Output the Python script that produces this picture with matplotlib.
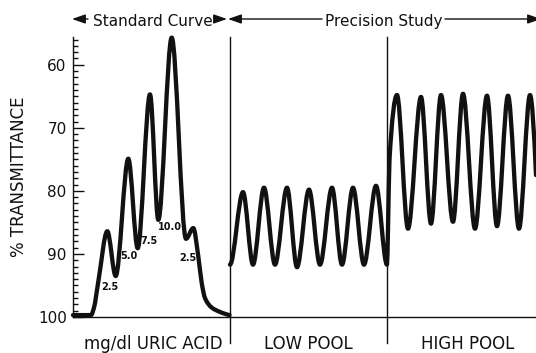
"""
	Uric acid assay, recorder trace.
	Standard curve (2.5 - 10.0 mg/dl) followed by a precision study on a low and a high pool.
	% transmittance runs downward, 100 sits on the baseline.
"""

import numpy as np
import matplotlib
matplotlib.use('Agg')
import matplotlib.pyplot as plt
from matplotlib.path import Path
from matplotlib.patches import PathPatch, FancyArrowPatch
from matplotlib.ticker import MultipleLocator

# chart position along the strip (0 = left edge of the grid) and % transmittance
# standard curve: baseline, peaks / valleys, then the tail back to baseline
std_pos = [0, 18, 21, 25.3, 34.3, 42.7, 55.3, 64.7, 77, 85.3, 98.7, 113, 120.3,
	125.3, 128.7, 132, 138.7, 147, 156.5]
std_trans = [99.7, 99.7, 98.5, 94.4, 86.4, 93.5, 74.9, 89.1, 64.7, 84.6, 55.7, 87.6, 85.9,
	90.4, 94.6, 97.0, 98.5, 99.2, 99.7]

low_pos = [157, 170, 180, 191, 202, 214, 224, 236, 247, 259, 269, 280, 291, 303, 314]
low_trans = [91.7, 80.2, 91.7, 79.5, 91.7, 79.5, 92.1, 79.8, 91.7, 79.5, 91.7, 79.5, 91.7, 79.2, 91.7]

high_pos = [315, 316.5, 324, 335, 348, 358, 368, 380, 390, 402, 414, 424, 435, 446, 457, 463]
high_trans = [86.0, 75.0, 64.8, 86.0, 65.1, 85.2, 64.8, 84.9, 64.6, 86.0, 64.9, 85.6, 64.9, 86.0, 64.8, 77.5]

# concentration marks written on the standard peaks
std_labels = ['2.5', '5.0', '7.5', '10.0', '2.5']
std_label_pos = [(36.7, 95.3), (56.2, 90.3), (76.3, 87.9), (97.3, 85.8), (114.5, 90.7)]

section_pos = [157, 314]
section_names = ['mg/dl URIC ACID', 'LOW POOL', 'HIGH POOL']
y_ticks = [60, 70, 80, 90, 100]

INK = '#111111'


def trace_path(x, y, start_slope=None):
	"""
		Smooth pen trace through the read points (monotone cubic, drawn as bezier segments).
	"""
	x = np.asarray(x, float)
	y = np.asarray(y, float)
	h = np.diff(x)
	d = np.diff(y) / h
	m = np.zeros_like(y)
	for i in range(1, len(x) - 1):
		if d[i - 1] * d[i] > 0:
			w1 = 2 * h[i] + h[i - 1]
			w2 = h[i] + 2 * h[i - 1]
			m[i] = (w1 + w2) / (w1 / d[i - 1] + w2 / d[i])
	# end slopes
	for k, (h0, h1, d0, d1) in ((0, (h[0], h[1], d[0], d[1])), (-1, (h[-1], h[-2], d[-1], d[-2]))):
		s = ((2 * h0 + h1) * d0 - h0 * d1) / (h0 + h1)
		if np.sign(s) != np.sign(d0):
			s = 0.0
		elif np.sign(d0) != np.sign(d1) and abs(s) > 3 * abs(d0):
			s = 3 * d0
		m[k] = s
	if start_slope is not None:
		m[0] = start_slope

	verts = [(x[0], y[0])]
	codes = [Path.MOVETO]
	for i in range(len(x) - 1):
		verts += [(x[i] + h[i] / 3, y[i] + m[i] * h[i] / 3),
			(x[i + 1] - h[i] / 3, y[i + 1] - m[i + 1] * h[i] / 3),
			(x[i + 1], y[i + 1])]
		codes += [Path.CURVE4] * 3
	return Path(verts, codes)


fig = plt.figure(figsize=(5.36, 3.53), dpi=100)
ax = fig.add_axes([73 / 536, 36 / 353, 463 / 536, 280 / 353])
ax.set_xlim(0, 463)
ax.set_ylim(100, 55.6)

# pen traces
traces = [(std_pos, std_trans), (low_pos + high_pos, low_trans + high_trans)]
for xs, ys in traces:
	ax.add_patch(PathPatch(trace_path(xs, ys, start_slope=0.0), fill=False, lw=3.1, ec=INK,
		capstyle='round', joinstyle='round', clip_on=False))

for txt, (px, py) in zip(std_labels, std_label_pos):
	ax.text(px, py, txt, fontsize=7, fontweight='bold', ha='center', va='center', color=INK)

# section dividers run down into the label strip
for sx in section_pos:
	ax.plot([sx, sx], [55.6, 104.1], color=INK, lw=1.0, clip_on=False)

# axes look of the strip chart
for side in ('top', 'right'):
	ax.spines[side].set_visible(False)
for side in ('left', 'bottom'):
	ax.spines[side].set_linewidth(1.0)
	ax.spines[side].set_color(INK)
ax.set_xticks([])
ax.set_yticks(y_ticks)
ax.yaxis.set_minor_locator(MultipleLocator(1))
ax.tick_params(axis='y', which='major', direction='in', length=8, width=1, labelsize=11, pad=4.5, colors=INK)
ax.tick_params(axis='y', which='minor', direction='in', length=3.6, width=1, colors=INK)

fig.text(19, 176, '% TRANSMITTANCE', rotation=90, ha='center', va='center', fontsize=12,
	color=INK, transform=None)

# bottom section names
label_x = [153, 308, 468]
for lx, name in zip(label_x, section_names):
	fig.text(lx, 4, name, ha='center', va='baseline', fontsize=12, color=INK, transform=None)

# header arrows
fig.text(153, 327, 'Standard Curve', ha='center', va='baseline', fontsize=11, color=INK, transform=None)
fig.text(383.5, 327, 'Precision Study', ha='center', va='baseline', fontsize=11, color=INK, transform=None)
arrow = dict(arrowstyle='-|>,head_length=0.8,head_width=0.28', color=INK, lw=1.0,
	shrinkA=0, shrinkB=0, mutation_scale=10)
for start, end in (((88, 334), (72, 334)), ((214, 334), (227, 334)),
		((322, 334), (228, 334)), ((445, 334), (541, 334))):
	fig.add_artist(FancyArrowPatch(start, end, transform=None, **arrow))

fig.savefig('out.png', dpi=100)
